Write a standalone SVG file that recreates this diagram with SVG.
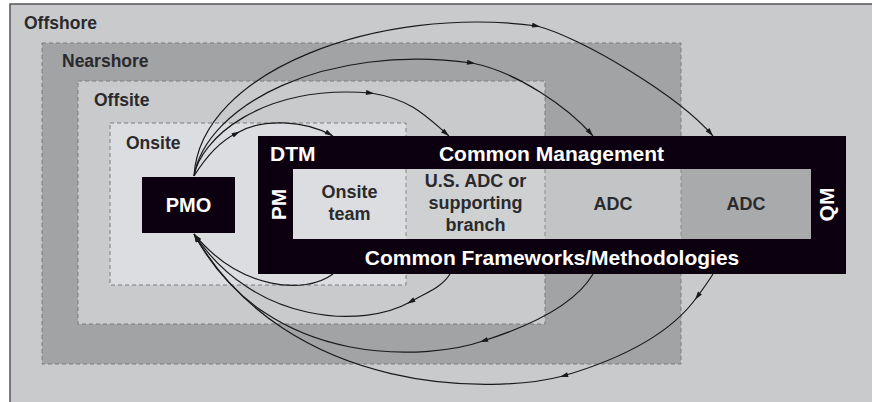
<svg xmlns="http://www.w3.org/2000/svg" width="872" height="402" viewBox="0 0 872 402">
<style>
.region{stroke:#7c7d80;stroke-width:1;stroke-dasharray:4 3}
.lbl{font-family:"Liberation Sans",Arial,sans-serif;font-weight:bold;font-size:17.5px;fill:#2a2a2c}
.in{font-family:"Liberation Sans",Arial,sans-serif;font-weight:bold;font-size:18px;fill:#2a2a2c;text-anchor:middle}
.wt{font-family:"Liberation Sans",Arial,sans-serif;font-weight:bold;font-size:21px;fill:#ffffff}
.div{stroke:#8a8b8e;stroke-width:1;stroke-dasharray:4 3;fill:none}
.con{fill:none;stroke:#1a1a1a;stroke-width:1.2;marker-mid:url(#am);marker-end:url(#ae)}
.blk{fill:#0c0010}
</style>
<defs>
<marker id="ae" viewBox="0 0 10 6" refX="10" refY="3" markerWidth="9" markerHeight="5" markerUnits="userSpaceOnUse" orient="auto"><path d="M0,0 L10,3 L0,6 z" fill="#1a1a1a"/></marker>
<marker id="am" viewBox="0 0 10 6" refX="6" refY="3" markerWidth="9" markerHeight="5" markerUnits="userSpaceOnUse" orient="auto"><path d="M0,0 L10,3 L0,6 z" fill="#1a1a1a"/></marker>
</defs>
<rect x="0" y="0" width="872" height="402" fill="#ffffff"/>
<g id="offshore">
<rect x="10" y="4" width="900" height="450" fill="#c9cacc" stroke="#55565a" stroke-width="1.5"/>
<text class="lbl" x="24" y="29">Offshore</text>
</g>
<g id="nearshore">
<rect class="region" x="42" y="43" width="639" height="321" fill="#a2a3a5"/>
<text class="lbl" x="62" y="67">Nearshore</text>
</g>
<g id="offsite">
<rect class="region" x="78" y="81" width="467" height="243" fill="#c9cacc"/>
<text class="lbl" x="94" y="106">Offsite</text>
</g>
<g id="onsite">
<rect class="region" x="110" y="123" width="296" height="162" fill="#dcdde0"/>
<text class="lbl" x="126" y="149">Onsite</text>
</g>
<g id="pmo">
<rect class="blk" x="142" y="177" width="93" height="56"/>
<text class="wt" x="188.5" y="212" text-anchor="middle" style="font-size:20px">PMO</text>
</g>
<g id="dtm">
<rect class="blk" x="258" y="136" width="588" height="138"/>
<text class="wt" x="270" y="161">DTM</text>
<text class="wt" x="551.5" y="161" text-anchor="middle">Common Management</text>
<text class="wt" x="552" y="265" text-anchor="middle">Common Frameworks/Methodologies</text>
<text class="wt" transform="translate(286,204.5) rotate(-90)" text-anchor="middle">PM</text>
<text class="wt" transform="translate(834,204.5) rotate(-90)" text-anchor="middle">QM</text>
</g>
<g id="onsite-team">
<rect x="293" y="169" width="113" height="70" fill="#dcdde0"/>
<text class="in" x="349.5" y="198">Onsite</text>
<text class="in" x="349.5" y="220">team</text>
</g>
<g id="us-adc">
<rect x="406" y="169" width="139" height="70" fill="#cfd0d2"/>
<text class="in" x="475.5" y="187">U.S. ADC or</text>
<text class="in" x="475.5" y="209">supporting</text>
<text class="in" x="475.5" y="231">branch</text>
</g>
<g id="adc-nearshore">
<rect x="545" y="169" width="136" height="70" fill="#c3c4c6"/>
<text class="in" x="613" y="210">ADC</text>
</g>
<g id="adc-offshore">
<rect x="681" y="169" width="130" height="70" fill="#a9aaac"/>
<text class="in" x="746" y="210">ADC</text>
</g>
<path class="div" d="M406,169 V239 M545,169 V239 M681,169 V239"/>
<g id="connectors">
<path class="con" d="M194,176 C204,160 218,142 237,133 C262,118 305,120 333,136"/>
<path class="con" d="M194,176 C200,140 260,84 371,93 C411,99.5 425,115 449,136"/>
<path class="con" d="M194,176 C206,105 325,43 472,63 C517,72 568,107 593,136"/>
<path class="con" d="M194,176 C200,70 380,5 537,26 C580,37 678,95 713,136"/>
<path class="con" d="M333,274 C305,295 240,290 194,234"/>
<path class="con" d="M450,274 C442,287 428,292 410,302 C365,328 255,326 194,234"/>
<path class="con" d="M593,274 C575,305 530,326 483,341 C435,358 270,375 194,234"/>
<path class="con" d="M713,274 C708,282 703,289 697,297 C672,332 628,357 563,376 C500,393 290,400 194,234"/>
</g>
</svg>
